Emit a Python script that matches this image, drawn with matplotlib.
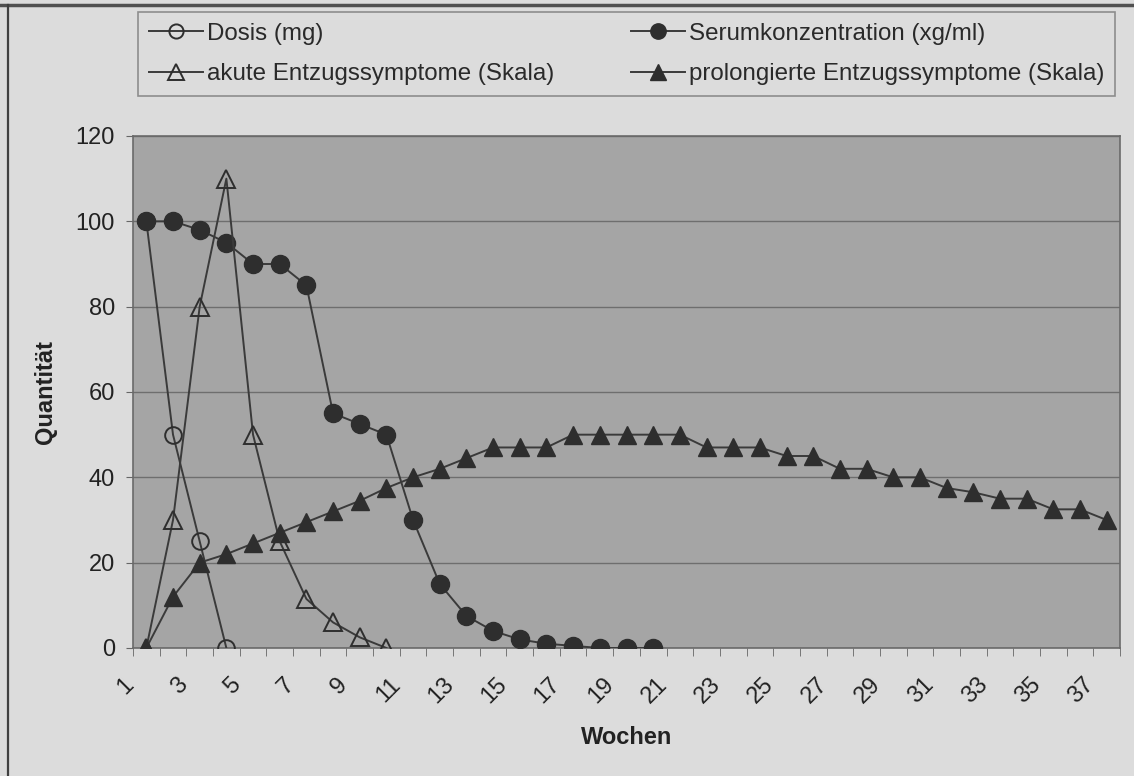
import matplotlib
matplotlib.use("Agg")
import matplotlib.pyplot as plt
from matplotlib.lines import Line2D
from matplotlib.transforms import ScaledTranslation

plt.rcParams['font.family'] = ['Liberation Sans', 'DejaVu Sans']

# weeks for each series
weeks_all = list(range(1, 38))
weeks_dosis = [1, 2, 3, 4]
weeks_serum = list(range(1, 21))
weeks_akut = list(range(1, 11))

dosis = [100, 50, 25, 0]
serum = [100, 100, 98, 95, 90, 90, 85, 55, 52.5, 50,
         30, 15, 7.5, 4, 2, 1, 0.5, 0, 0, 0]
akut = [0, 30, 80, 110, 50, 25, 11.5, 6, 2.5, 0]
prolong = [0, 12, 20, 22, 24.5, 27, 29.5, 32, 34.5, 37.5,
           40, 42, 44.5, 47, 47, 47, 50, 50, 50, 50,
           50, 47, 47, 47, 45, 45, 42, 42, 40, 40,
           37.5, 36.5, 35, 35, 32.5, 32.5, 30]

labels = ["Dosis (mg)", "Serumkonzentration (xg/ml)",
          "akute Entzugssymptome (Skala)", "prolongierte Entzugssymptome (Skala)"]
tick_weeks = list(range(1, 38, 2))
y_ticks = [0, 20, 40, 60, 80, 100, 120]

fig_bg = '#dcdcdc'
plot_bg = '#a5a5a5'
dark = '#2e2e2e'
line_c = '#3a3a3a'

fig = plt.figure(figsize=(11.34, 7.76), dpi=100, facecolor=fig_bg)
ax = fig.add_axes([133/1134, 1 - 648/776, 987/1134, 512/776])
ax.set_facecolor(plot_bg)

lw = 1.4
h_dosis, = ax.plot(weeks_dosis, dosis, '-o', color=line_c, lw=lw, ms=12,
                   mfc='none', mec=dark, mew=1.4, label=labels[0], zorder=3)
h_serum, = ax.plot(weeks_serum, serum, '-o', color=line_c, lw=lw, ms=13,
                   mfc=dark, mec=dark, label=labels[1], zorder=3)
h_akut, = ax.plot(weeks_akut, akut, '-^', color=line_c, lw=lw, ms=13,
                  mfc='none', mec=dark, mew=1.4, label=labels[2], zorder=3)
h_prol, = ax.plot(weeks_all, prolong, '-^', color=line_c, lw=lw, ms=13,
                  mfc=dark, mec=dark, label=labels[3], zorder=3)

ax.set_xlim(0.5, 37.5)
ax.set_ylim(0, 120)
ax.set_yticks(y_ticks)
ax.yaxis.grid(True, color='#6e6e6e', lw=1.0)
ax.set_axisbelow(True)
ax.tick_params(axis='y', labelsize=17, length=5, pad=8, color='#666666', labelcolor='#222222')

ax.set_xticks(tick_weeks)
ax.set_xticklabels([str(w) for w in tick_weeks])
ax.set_xticks([w + 0.5 for w in range(0, 38)], minor=True)
ax.tick_params(axis='x', which='major', length=0, pad=24, labelsize=17, labelcolor='#222222')
ax.tick_params(axis='x', which='minor', length=6, color='#666666', direction='out')
off = ScaledTranslation(-16 / 100, 0, fig.dpi_scale_trans)
for lab in ax.get_xticklabels():
    lab.set_rotation(45)
    lab.set_rotation_mode('anchor')
    lab.set_ha('right')
    lab.set_va('center')
    lab.set_transform(lab.get_transform() + off)

for s in ax.spines.values():
    s.set_color('#6a6a6a')
    s.set_linewidth(1.2)

ax.set_ylabel('Quantität', fontsize=17, fontweight='bold', color='#222222', va='center')
ax.yaxis.set_label_coords(-0.089, 0.5)
ax.set_xlabel('Wochen', fontsize=17, fontweight='bold', color='#222222', va='center')
ax.xaxis.set_label_coords(0.5, -0.174)

# legend fills column by column: order so rows read Dosis/Serum, akut/prolong
leg = fig.legend(handles=[h_dosis, h_akut, h_serum, h_prol],
                 labels=[labels[0], labels[2], labels[1], labels[3]], ncol=2,
                 loc='upper left', bbox_to_anchor=(138/1134, 1 - 93/776, 977/1134, 81/776),
                 mode='expand', fontsize=17.4, frameon=True, fancybox=False,
                 handlelength=2.25, handletextpad=0.15, borderpad=0.45,
                 labelspacing=0.76, columnspacing=0.6, markerscale=0.85,
                 borderaxespad=0)
leg.get_frame().set_facecolor(fig_bg)
leg.get_frame().set_edgecolor('#7a7a7a')
leg.get_frame().set_linewidth(1.2)
for t in leg.get_texts():
    t.set_color('#2a2a2a')

# outer frame of the chart (top and left edge of the scan)
fig.add_artist(Line2D([0, 1], [1 - 5/776, 1 - 5/776], transform=fig.transFigure,
                      color='#505050', lw=2.5))
fig.add_artist(Line2D([8/1134, 8/1134], [0, 1 - 5/776], transform=fig.transFigure,
                      color='#404040', lw=1.6))

fig.savefig('out.png', dpi=100, facecolor=fig_bg)
